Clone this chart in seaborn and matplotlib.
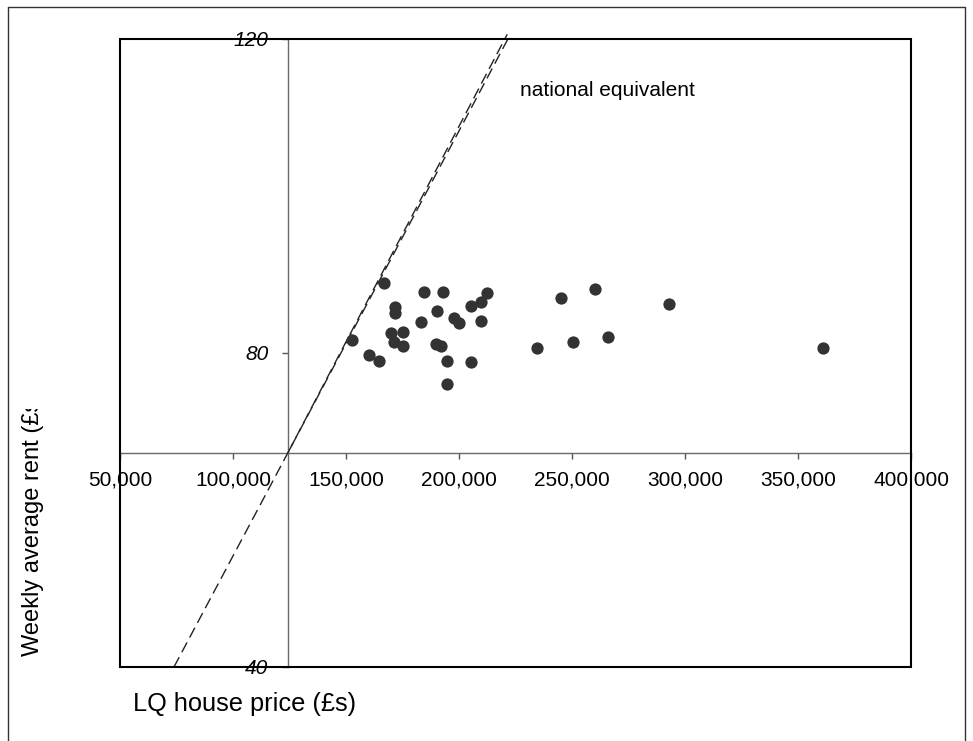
import matplotlib
matplotlib.use("Agg")
import numpy as np
import pandas as pd
import seaborn as sns
import matplotlib.pyplot as plt
from matplotlib.patches import Rectangle
from matplotlib.lines import Line2D
from matplotlib.transforms import Bbox, TransformedBbox
from matplotlib.ticker import FuncFormatter

# Local-authority house prices (LQ, £) and weekly average rents (£)
house_price = [167000, 184600, 192800, 212300, 209600, 205200, 171700, 171700,
               190100, 197900, 200000, 209600, 183100, 175100, 169800, 171400,
               175100, 152800, 189800, 192000, 160200, 164500, 194600, 205200,
               194600, 260000, 245000, 292800, 266100, 250300, 234400, 360900]
weekly_rent = [88.9, 87.8, 87.8, 87.6, 86.5, 86.0, 85.8, 85.1,
               85.4, 84.5, 83.8, 84.1, 83.9, 82.7, 82.5, 81.4,
               80.9, 81.6, 81.2, 80.9, 79.7, 79.0, 79.0, 78.8,
               76.1, 88.2, 87.0, 86.2, 82.1, 81.4, 80.7, 80.7]

# National averages: the axes cross here and the ratio line runs through it
national_price = 124300
national_rent = 67.3

x_ticks = [50000, 100000, 150000, 200000, 250000, 300000, 350000, 400000]
y_ticks = [40, 80, 120]

sns.set_theme(style="white")
plt.rcParams['font.family'] = ['Liberation Sans', 'DejaVu Sans']

W, H = 973, 741
fig = plt.figure(figsize=(W / 100, H / 100), dpi=100)
ax = fig.add_axes([120 / W, (H - 667) / H, (911 - 120) / W, (667 - 39) / H])

df = pd.DataFrame({"price": house_price, "rent": weekly_rent})
sns.scatterplot(data=df, x="price", y="rent", ax=ax, s=78, color="#333333",
                edgecolor="#333333", linewidth=0, zorder=4)

ax.set_xlim(50000, 400000)
ax.set_ylim(40, 120)

# Crossing axes at the national averages
for side in ['top', 'right']:
    ax.spines[side].set_visible(False)
ax.spines['bottom'].set_position(('data', national_rent))
ax.spines['left'].set_position(('data', national_price))
for side in ['bottom', 'left']:
    ax.spines[side].set_color('#6a6a6a')
    ax.spines[side].set_linewidth(1.0)

# Outer plot box
ax.add_patch(Rectangle((0, 0), 1, 1, transform=ax.transAxes, fill=False,
                       edgecolor='black', linewidth=1.5, clip_on=False, zorder=5))

ax.set_xticks(x_ticks)
ax.set_yticks(y_ticks)
ax.xaxis.set_major_formatter(FuncFormatter(lambda v, p: f"{int(v):,}"))
ax.tick_params(axis='both', which='major', direction='out', length=4, width=1,
               color='#555555', labelsize=15, labelcolor='black',
               bottom=True, left=True)
ax.tick_params(axis='x', pad=9)
ax.tick_params(axis='y', pad=10)
for lbl in ax.get_yticklabels():
    lbl.set_fontstyle('italic')
ax.set_xlabel('')
ax.set_ylabel('')

# National equivalent: rent-to-price ratio line through the origin
ratio = national_rent / national_price
y_lo, y_hi = 40, 120.6
ax.plot([y_lo / ratio, y_hi / ratio], [y_lo, y_hi], color='#222222', lw=1.0,
        dashes=(8, 4), clip_on=False, zorder=3)
ax.plot([national_price, y_hi / ratio - 1400], [national_rent, y_hi],
        color='#222222', lw=1.0, dashes=(8, 4), clip_on=False, zorder=3)
ax.text(227000, 113.5, "national equivalent", fontsize=15, ha='left',
        va='center', color='black')

# Axis titles
fig.text(133 / W, (H - 704) / H, "LQ house price (£s)", ha='left', va='center',
         fontsize=18.3, color='black')
yt = fig.text(33 / W, (H - 656) / H, "Weekly average rent (£s)", rotation=90,
              ha='center', va='bottom', fontsize=17, color='black')
yt.set_clip_box(TransformedBbox(Bbox([[0, 0], [1, (H - 409) / H]]), fig.transFigure))
yt.set_clip_on(True)

# Frame around the figure
frame = dict(transform=fig.transFigure, color='#333333', lw=1.0)
fig.add_artist(Line2D([8 / W, 8 / W], [0, (H - 7) / H], **frame))
fig.add_artist(Line2D([8 / W, 965 / W], [(H - 7) / H, (H - 7) / H], **frame))
fig.add_artist(Line2D([965 / W, 965 / W], [0, (H - 7) / H], **frame))

fig.savefig("out.png", dpi=100)
